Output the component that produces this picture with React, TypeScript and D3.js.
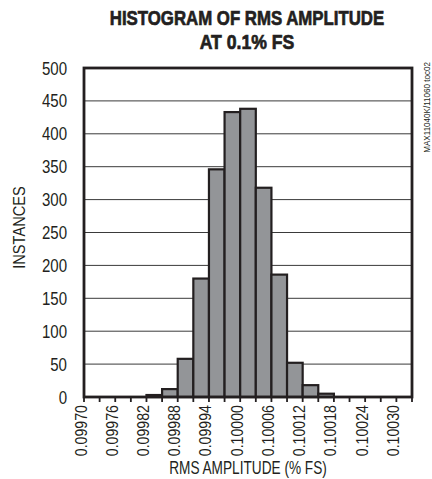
import React from "react";
import * as d3 from "d3";

const binStarts = [
  0.0997, 0.09973, 0.09976, 0.09979, 0.09982, 0.09985, 0.09988, 0.09991, 0.09994, 0.09997,
  0.1, 0.10003, 0.10006, 0.10009, 0.10012, 0.10015, 0.10018, 0.10021, 0.10024, 0.10027, 0.1003,
];
const counts = [0, 0, 0, 0, 3, 12, 58, 180, 346, 433, 438, 318, 186, 52, 18, 5, 0, 0, 0, 0, 0];
const binWidth = 0.00003;
const xTickLabels = ["0.09970", "0.09976", "0.09982", "0.09988", "0.09994", "0.10000", "0.10006", "0.10012", "0.10018", "0.10024", "0.10030"];
const yTicks = [0, 50, 100, 150, 200, 250, 300, 350, 400, 450, 500];

const W = 432, H = 479;
const L = 84, R = 412, T = 68, B = 397;
const font = "'Liberation Sans', Arial, sans-serif";
const ink = "#231f20";

function SText(props: { x: number; y: number; sx: number; rot?: number; anchor?: string; size: number; bold?: boolean; children: React.ReactNode }) {
  const { x, y, sx, rot = 0, anchor = "middle", size, bold, children } = props;
  return (
    <text
      transform={`translate(${x},${y}) rotate(${rot}) scale(${sx},1)`}
      textAnchor={anchor}
      fontFamily={font}
      fontWeight={bold ? "bold" : "normal"}
      fontSize={size}
      fill={ink}
      stroke={bold ? ink : "none"}
      strokeWidth={bold ? 0.7 : 0}
    >
      {children}
    </text>
  );
}

export default function App() {
  const x = d3.scaleLinear().domain([0.0997, 0.10033]).range([L, R]);
  const y = d3.scaleLinear().domain([0, 500]).range([B, T]);
  const minorTicks = d3.range(22).map((i) => 0.0997 + i * binWidth);

  return (
    <svg width={W} height={H} style={{ position: "absolute", left: 0, top: 0, background: "#fff" }}>
      <SText x={247} y={24.5} sx={0.82} size={20.5} bold>HISTOGRAM OF RMS AMPLITUDE</SText>
      <SText x={247} y={48.5} sx={0.86} size={20.5} bold>AT 0.1% FS</SText>
      {yTicks.slice(1, -1).map((t) => (
        <line key={t} x1={L} x2={R} y1={y(t)} y2={y(t)} stroke="#3a3a3a" strokeWidth={1} />
      ))}
      {counts.map((c, i) =>
        c > 0 ? (
          <rect key={i} x={x(binStarts[i])} y={y(c)} width={x(binStarts[i] + binWidth) - x(binStarts[i])} height={B - y(c)} fill="#939598" stroke={ink} strokeWidth={2.2} />
        ) : null
      )}
      <rect x={L} y={T} width={R - L} height={B - T} fill="none" stroke={ink} strokeWidth={2.8} />
      {minorTicks.map((t, i) => (
        <line key={i} x1={x(t)} x2={x(t)} y1={B} y2={B + 5} stroke={ink} strokeWidth={1.8} />
      ))}
      {yTicks.map((t) => (
        <SText key={t} x={67} y={y(t) + 6.5} sx={0.86} anchor="end" size={17.5}>{t}</SText>
      ))}
      {xTickLabels.map((lab, i) => {
        const xp = x(0.0997 + i * 0.00006);
        return (
          <SText key={lab} x={xp + 2.5} y={B + 8} sx={0.86} rot={-90} anchor="end" size={16.5}>{lab}</SText>
        );
      })}
      <SText x={25} y={227.5} sx={0.86} rot={-90} size={17}>INSTANCES</SText>
      <SText x={248} y={474} sx={0.78} size={17.5}>RMS AMPLITUDE (% FS)</SText>
      <SText x={430} y={62} sx={0.95} rot={-90} anchor="end" size={8.5}>MAX11040K/11060 toc02</SText>
    </svg>
  );
}
